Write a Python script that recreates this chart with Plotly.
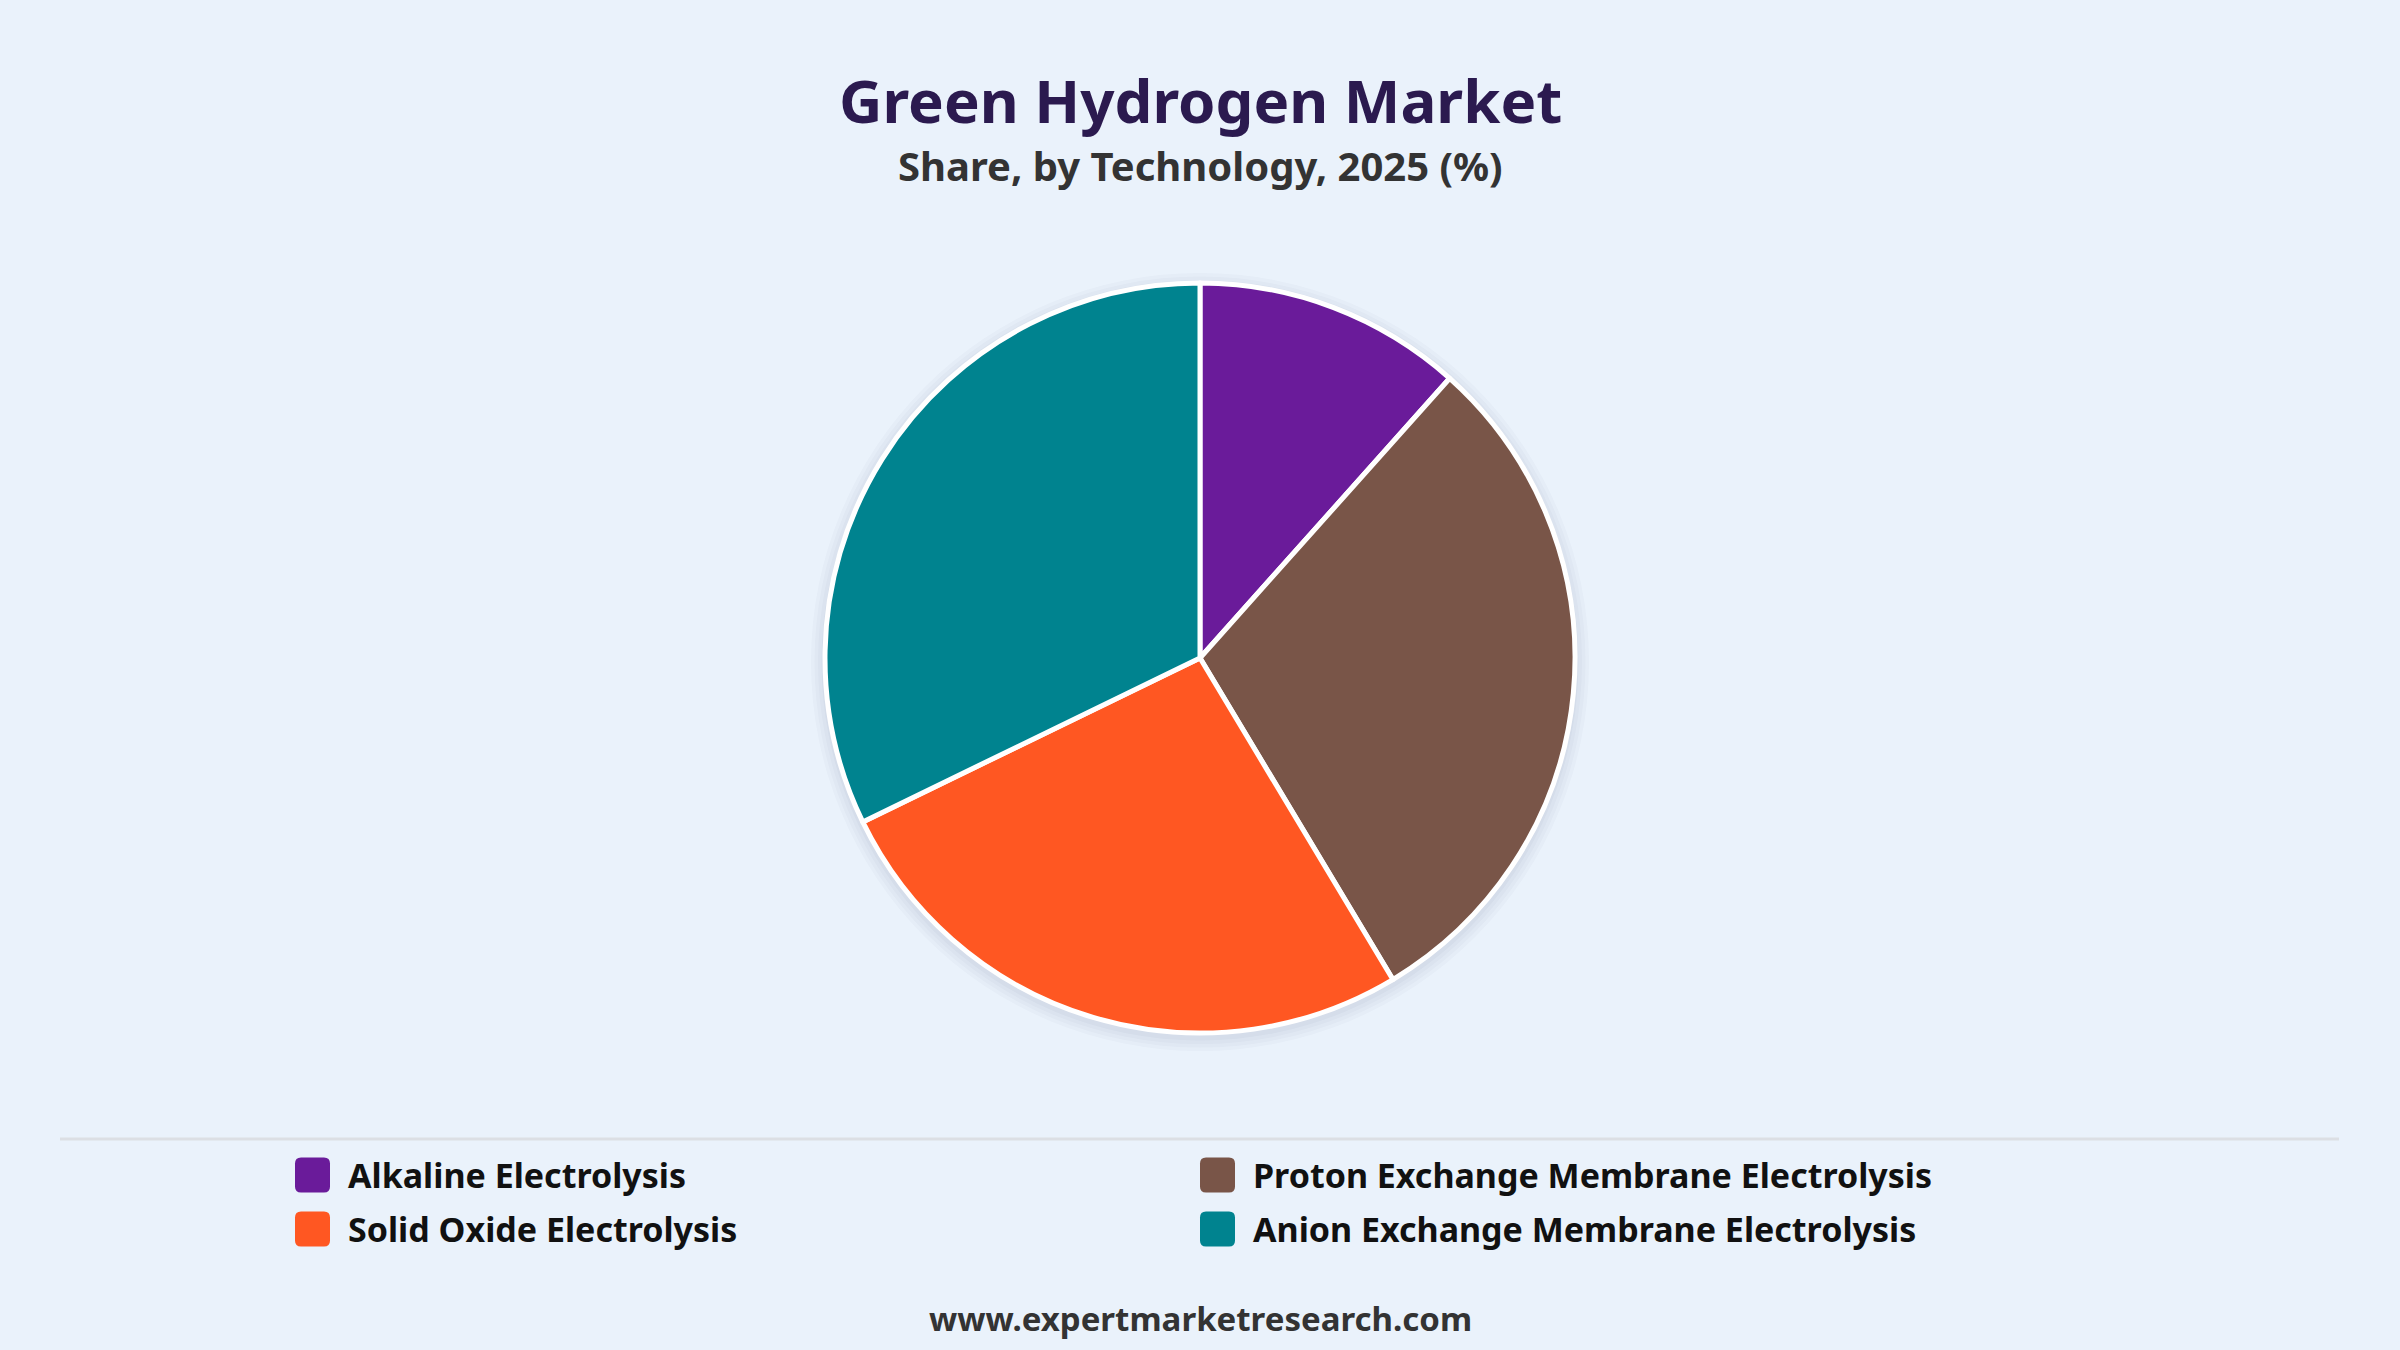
import plotly.graph_objects as go

labels = ["Alkaline Electrolysis", "Proton Exchange Membrane Electrolysis",
          "Solid Oxide Electrolysis", "Anion Exchange Membrane Electrolysis"]
values = [11.6, 29.8, 26.4, 32.2]
colors = ["#6A1B9A", "#795548", "#FF5722", "#00838F"]

W, H = 2400, 1350
BG = "#EAF2FB"
FONT = "Noto Sans"

fig = go.Figure()
fig.add_trace(go.Pie(
    labels=labels, values=values, sort=False, direction="clockwise", rotation=0,
    marker=dict(colors=colors, line=dict(color="white", width=5)),
    textinfo="none", hoverinfo="label+percent", showlegend=False,
    domain=dict(x=[0, 1], y=[(H - 1033) / H, (H - 283) / H]),
))

shapes = []
# soft shadow behind pie
cx, cy, r = 1200 / W, 1 - 662 / H, 375
for i, a in enumerate([0.025, 0.025, 0.025, 0.03]):
    rr = r + 14 - i * 3.5
    shapes.append(dict(type="circle", xref="paper", yref="paper", layer="below",
                       x0=cx - rr / W, x1=cx + rr / W, y0=cy - rr / H, y1=cy + rr / H,
                       fillcolor=f"rgba(40,60,90,{a})", line=dict(width=0)))
# separator line
shapes.append(dict(type="line", xref="paper", yref="paper", x0=60 / W, x1=2339 / W,
                   y0=1 - 1139 / H, y1=1 - 1139 / H, line=dict(color="#DCDFE4", width=3)))

annotations = [
    dict(text="<b>Green Hydrogen Market</b>", x=0.5, y=1 - 100 / H, xref="paper", yref="paper",
         showarrow=False, font=dict(family=FONT, size=60, color="#2B1A4F"), xanchor="center", yanchor="middle"),
    dict(text="<b>Share, by Technology, 2025 (%)</b>", x=0.5, y=1 - 166 / H, xref="paper", yref="paper",
         showarrow=False, font=dict(family=FONT, size=40, color="#333333"), xanchor="center", yanchor="middle"),
    dict(text="<b>www.expertmarketresearch.com</b>", x=0.5, y=1 - 1318 / H, xref="paper", yref="paper",
         showarrow=False, font=dict(family=FONT, size=33, color="#333333"), xanchor="center", yanchor="middle"),
]

# legend (2 columns)
col_x = [295, 1200]
row_y = [1175, 1229]
sq = 35
rad = 6
for i, (lab, col) in enumerate(zip(labels, colors)):
    x0 = col_x[i % 2]
    yc = row_y[i // 2]
    x1 = x0 + sq
    y0p, y1p = yc - sq / 2, yc + sq / 2
    def px(x): return x / W
    def py(y): return 1 - y / H
    path = (f"M {px(x0 + rad)},{py(y0p)} L {px(x1 - rad)},{py(y0p)} "
            f"Q {px(x1)},{py(y0p)} {px(x1)},{py(y0p + rad)} L {px(x1)},{py(y1p - rad)} "
            f"Q {px(x1)},{py(y1p)} {px(x1 - rad)},{py(y1p)} L {px(x0 + rad)},{py(y1p)} "
            f"Q {px(x0)},{py(y1p)} {px(x0)},{py(y1p - rad)} L {px(x0)},{py(y0p + rad)} "
            f"Q {px(x0)},{py(y0p)} {px(x0 + rad)},{py(y0p)} Z")
    shapes.append(dict(type="path", xref="paper", yref="paper", path=path,
                       fillcolor=col, line=dict(width=0)))
    annotations.append(dict(text=f"<b>{lab}</b>", x=(x1 + 16) / W, y=1 - yc / H, xref="paper", yref="paper",
                            showarrow=False, xanchor="left", yanchor="middle",
                            font=dict(family=FONT, size=34, color="#111111")))

fig.update_layout(
    width=W, height=H, paper_bgcolor=BG, plot_bgcolor=BG,
    margin=dict(l=0, r=0, t=0, b=0),
    shapes=shapes, annotations=annotations, showlegend=False,
)

fig.write_html("out.html", config={"displayModeBar": False},
               post_script="document.body.style.margin='0';document.body.style.overflow='hidden';"
                           "document.body.style.background='" + BG + "';")
